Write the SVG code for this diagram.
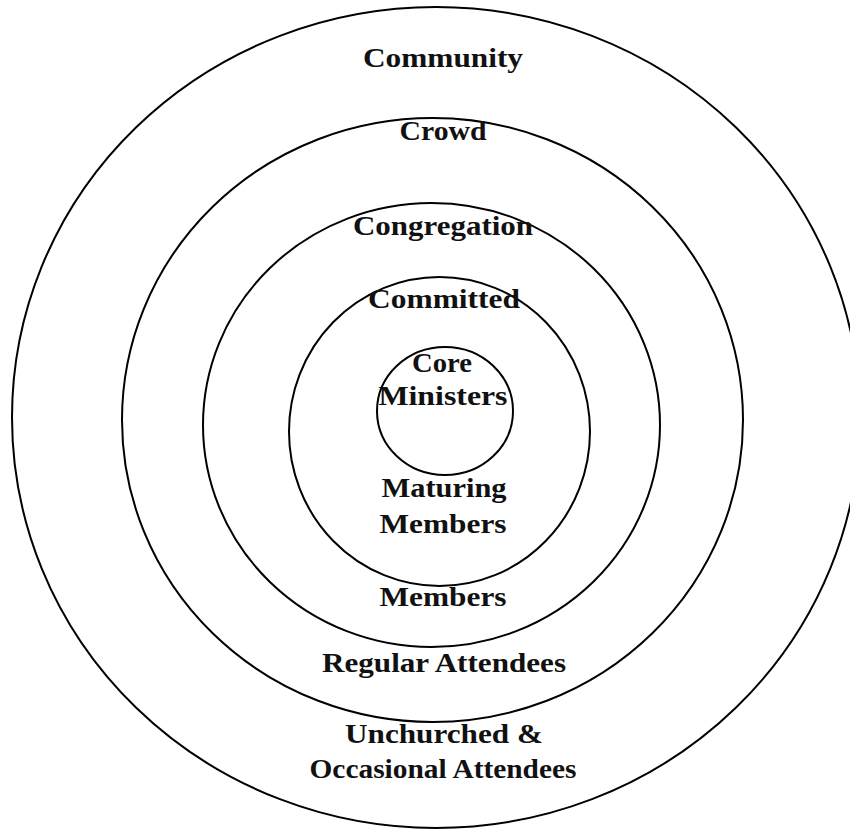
<svg xmlns="http://www.w3.org/2000/svg" width="850" height="829" viewBox="0 0 850 829">
<style>
.ring{fill:none;stroke:#000;stroke-width:2}
.lbl{font-family:"Liberation Serif","Times New Roman",serif;font-weight:bold;font-size:28px;fill:#111;text-anchor:middle}
</style>
<rect width="850" height="829" fill="#fff"/>
<g id="community">
<ellipse class="ring" cx="436" cy="417.5" rx="424" ry="410.5"/>
<text class="lbl" x="443" y="67" textLength="160" lengthAdjust="spacingAndGlyphs">Community</text>
<text class="lbl" x="444" y="743" textLength="198" lengthAdjust="spacingAndGlyphs">Unchurched &amp;</text>
<text class="lbl" x="443" y="778" textLength="267" lengthAdjust="spacingAndGlyphs">Occasional Attendees</text>
</g>
<g id="crowd">
<ellipse class="ring" cx="432.5" cy="420" rx="310.5" ry="302"/>
<text class="lbl" x="443" y="140" textLength="87" lengthAdjust="spacingAndGlyphs">Crowd</text>
<text class="lbl" x="444" y="672" textLength="244" lengthAdjust="spacingAndGlyphs">Regular Attendees</text>
</g>
<g id="congregation">
<ellipse class="ring" cx="431.5" cy="425" rx="228.5" ry="222"/>
<text class="lbl" x="443" y="235" textLength="180" lengthAdjust="spacingAndGlyphs">Congregation</text>
<text class="lbl" x="443" y="606" textLength="127" lengthAdjust="spacingAndGlyphs">Members</text>
</g>
<g id="committed">
<ellipse class="ring" cx="439.5" cy="431.5" rx="150.5" ry="154.5"/>
<text class="lbl" x="444" y="308" textLength="152" lengthAdjust="spacingAndGlyphs">Committed</text>
<text class="lbl" x="444" y="497" textLength="125" lengthAdjust="spacingAndGlyphs">Maturing</text>
<text class="lbl" x="443" y="533" textLength="127" lengthAdjust="spacingAndGlyphs">Members</text>
</g>
<g id="core">
<ellipse class="ring" cx="445" cy="411" rx="68" ry="64"/>
<text class="lbl" x="442" y="372" textLength="60" lengthAdjust="spacingAndGlyphs">Core</text>
<text class="lbl" x="443" y="405" textLength="129" lengthAdjust="spacingAndGlyphs">Ministers</text>
</g>
<g id="connectors"/>
</svg>
